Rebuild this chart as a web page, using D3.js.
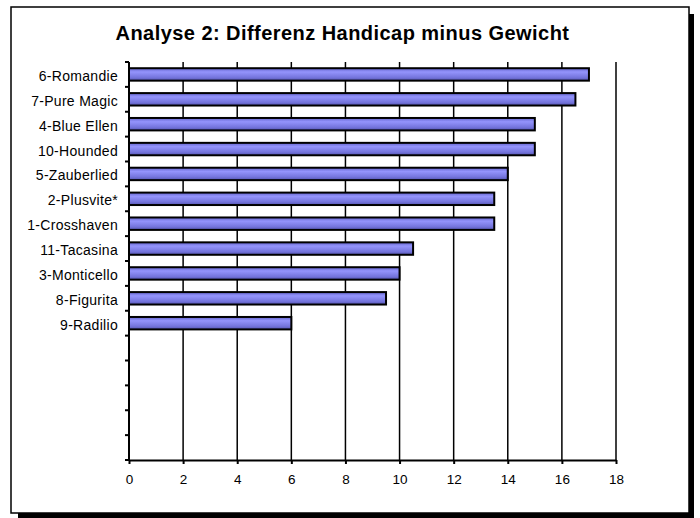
<!DOCTYPE html>
<html>
<head>
<meta charset="utf-8">
<script src="https://cdn.jsdelivr.net/npm/d3@7"></script>
<style>
  body { margin: 0; background: #fff; }
  svg { display: block; font-family: "Liberation Sans", Arial, sans-serif; }
</style>
</head>
<body>
<div id="chart"></div>
<script>
const categories = ["6-Romandie", "7-Pure Magic", "4-Blue Ellen", "10-Hounded", "5-Zauberlied",
  "2-Plusvite*", "1-Crosshaven", "11-Tacasina", "3-Monticello", "8-Figurita", "9-Radilio"];
const values = [17, 16.5, 15, 15, 14, 13.5, 13.5, 10.5, 10, 9.5, 6];
const emptySlots = 5; // blank rows below the last horse
const xTicks = [0, 2, 4, 6, 8, 10, 12, 14, 16, 18];
const title = "Analyse 2: Differenz Handicap minus Gewicht";

const width = 700, height = 518;
const plot = { left: 129, right: 616, top: 62, bottom: 460 };

const svg = d3.select("#chart").append("svg")
    .attr("width", width)
    .attr("height", height);

const defs = svg.append("defs");
const grad = defs.append("linearGradient")
    .attr("id", "barFill")
    .attr("x1", 0).attr("y1", 0).attr("x2", 0).attr("y2", 1);
[[0, "#6464cc"], [0.3, "#9494fc"], [0.5, "#8686ee"], [0.75, "#7474dc"], [1, "#5454ae"]]
    .forEach(s => grad.append("stop").attr("offset", s[0]).attr("stop-color", s[1]));

// frame with drop shadow
svg.append("rect")
    .attr("x", 18).attr("y", 14)
    .attr("width", 676).attr("height", 504)
    .attr("fill", "#000");
svg.append("rect")
    .attr("x", 11).attr("y", 7)
    .attr("width", 678).attr("height", 506)
    .attr("fill", "#fff")
    .attr("stroke", "#000")
    .attr("stroke-width", 1.5);

svg.append("text")
    .attr("x", 342.5)
    .attr("y", 40)
    .attr("text-anchor", "middle")
    .style("font-size", "20px")
    .style("font-weight", "bold")
    .style("letter-spacing", "0.45px")
    .text(title);

const domain = categories.concat(d3.range(emptySlots).map(i => "_empty" + i));

const x = d3.scaleLinear()
    .domain([0, 18])
    .range([plot.left, plot.right]);

const y = d3.scaleBand()
    .domain(domain)
    .range([plot.top, plot.bottom])
    .paddingInner(0.5)
    .paddingOuter(0.25);

// vertical gridlines
svg.append("g")
    .selectAll("line")
    .data(xTicks.filter(d => d > 0))
    .enter().append("line")
    .attr("x1", d => x(d)).attr("x2", d => x(d))
    .attr("y1", plot.top).attr("y2", plot.bottom)
    .attr("stroke", "#000")
    .attr("stroke-width", 1.5);

// bars
svg.append("g")
    .selectAll("rect")
    .data(values)
    .enter().append("rect")
    .attr("x", x(0))
    .attr("y", (d, i) => y(categories[i]))
    .attr("width", d => x(d) - x(0))
    .attr("height", y.bandwidth())
    .attr("fill", "url(#barFill)")
    .attr("stroke", "#000")
    .attr("stroke-width", 2);

// x axis
const xAxis = svg.append("g")
    .attr("transform", `translate(0,${plot.bottom})`)
    .call(d3.axisBottom(x).tickValues(xTicks).tickSize(4).tickPadding(10).tickSizeOuter(0));
xAxis.select(".domain").attr("stroke-width", 2);
xAxis.selectAll(".tick line").attr("stroke-width", 2);
xAxis.selectAll(".tick text")
    .style("font-size", "13.5px")
    .style("font-family", "\"Liberation Sans\", Arial, sans-serif")
    .attr("fill", "#000");

// y axis: ticks at band edges
const step = y.step();
const edges = d3.range(domain.length + 1).map(i => plot.top + i * step);
svg.append("line")
    .attr("x1", plot.left).attr("x2", plot.left)
    .attr("y1", plot.top).attr("y2", plot.bottom)
    .attr("stroke", "#000").attr("stroke-width", 2);
svg.append("g")
    .selectAll("line")
    .data(edges)
    .enter().append("line")
    .attr("x1", plot.left - 4).attr("x2", plot.left)
    .attr("y1", d => d).attr("y2", d => d)
    .attr("stroke", "#000").attr("stroke-width", 2);

svg.append("g")
    .selectAll("text")
    .data(categories)
    .enter().append("text")
    .attr("x", plot.left - 11)
    .attr("y", d => y(d) + y.bandwidth() / 2 + 6.5)
    .attr("text-anchor", "end")
    .style("font-size", "14px")
    .style("letter-spacing", "0.3px")
    .text(d => d);
</script>
</body>
</html>
